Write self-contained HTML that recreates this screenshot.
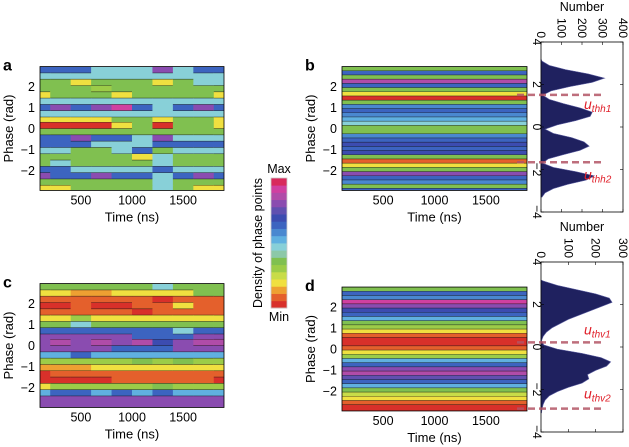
<!DOCTYPE html>
<html><head><meta charset="utf-8"><style>
html,body{margin:0;padding:0;background:#fff;}
svg{display:block;font-family:"Liberation Sans",sans-serif;}
</style></head><body>
<svg id="fig" width="629" height="447" viewBox="0 0 629 447"></svg>
<script>
// ---------- data ----------
const palette = ["#d8302a","#e4602c","#eea032","#f0e040","#c8dc48","#9ccc48","#80c050","#8cc8a8","#88d0d8","#60b0e0","#4a88d0","#3c64c0","#3c4cb0","#6050b0","#8a4cb0","#b04ca8","#d040a0","#d82a5c"];
const times = [100,300,500,700,900,1100,1300,1500,1700,1900];
const phaseRowsAC = [2.8,2.5,2.2,1.9,1.6,1.3,1.0,0.7,0.4,0.15,-0.15,-0.45,-0.75,-1.05,-1.35,-1.65,-1.95,-2.25,-2.55,-2.85];
const levelsA = [
[11,11,11,8,8,8,14,8,11,11],[8,8,8,8,8,8,8,8,8,8],[6,6,3,6,6,6,3,6,8,8],[6,6,6,5,6,6,6,6,6,6],
[3,6,6,6,3,6,6,6,6,3],[8,8,8,8,8,8,8,8,8,8],[11,14,11,14,16,11,8,11,14,11],[8,8,8,8,8,8,8,8,8,8],
[3,3,3,3,6,6,3,6,6,3],[0,0,0,0,3,6,0,6,6,3],[6,6,6,6,6,6,6,6,6,6],[11,11,14,11,11,8,14,8,8,8],
[11,11,11,8,8,8,11,11,11,11],[8,8,6,6,8,11,6,8,8,8],[6,6,6,6,6,3,8,6,6,6],[6,8,6,6,6,6,8,6,6,6],
[11,11,8,8,8,8,11,8,8,8],[14,11,11,14,11,11,8,11,14,11],[6,6,6,6,6,6,8,6,6,6],[3,3,6,6,6,6,8,6,3,3]];
const levelsC = [
[6,6,6,6,6,6,8,6,6,6],[3,3,2,2,3,3,3,3,6,6],[1,1,1,1,1,1,0,1,1,1],[0,0,1,0,0,1,1,3,1,1],
[1,1,1,1,1,0,1,1,1,1],[3,3,5,3,3,3,3,3,3,3],[6,6,8,6,6,6,6,6,6,6],[11,11,11,11,11,11,11,8,11,11],
[14,14,14,14,14,11,11,11,14,14],[14,15,14,15,14,15,12,14,15,15],[14,14,14,14,11,11,11,14,14,14],[9,9,11,9,9,9,9,9,9,9],
[5,5,5,5,5,6,5,6,5,5],[2,2,2,3,3,3,3,3,3,3],[0,1,1,1,1,1,1,1,1,1],[0,0,0,0,1,1,1,1,1,0],
[3,5,5,5,5,5,6,5,5,5],[9,11,11,9,11,9,11,9,9,9],[14,14,14,14,14,14,14,14,14,14],[14,14,14,14,14,14,14,14,14,14]];
const phaseRowsBD = [2.85,2.65,2.45,2.25,2.05,1.85,1.65,1.45,1.25,1.05,0.85,0.65,0.45,0.25,0.05,-0.15,-0.35,-0.55,-0.75,-0.95,-1.15,-1.35,-1.55,-1.75,-1.95,-2.15,-2.35,-2.55,-2.75,-2.95];
const profileB = [6,11,6,15,11,6,3,0,6,10,11,10,9,8,6,6,10,11,12,11,12,6,1,3,6,14,11,10,6,11];
const profileD = [6,11,10,16,14,12,11,9,6,5,3,1,0,0,1,3,5,9,11,14,15,13,11,9,6,4,3,1,0,0];
const histPhaseB = [3.2,3.1,2.9,2.7,2.5,2.3,2.1,1.9,1.7,1.5,1.3,1.1,0.9,0.7,0.5,0.3,0.1,-0.1,-0.3,-0.5,-0.7,-0.9,-1.1,-1.3,-1.5,-1.7,-1.9,-2.1,-2.3,-2.5,-2.7,-2.9,-3.1,-3.3];
const histCountB = [0,5,40,120,230,310,250,140,50,8,40,110,190,250,240,170,80,20,60,150,210,235,190,110,35,8,60,170,260,220,130,60,20,5];
const histPhaseD = [3.15,3.1,2.9,2.7,2.5,2.3,2.1,1.9,1.7,1.5,1.3,1.1,0.9,0.7,0.5,0.3,0.1,-0.1,-0.3,-0.5,-0.7,-0.9,-1.1,-1.3,-1.5,-1.7,-1.9,-2.1,-2.3,-2.5,-2.7,-2.9,-3.1];
const histCountD = [0,10,60,130,200,250,260,220,180,140,100,70,40,20,8,2,10,60,150,220,255,240,200,170,175,150,100,60,30,15,8,4,2];
const thresholdsB = [1.51,-1.66];
const thresholdsD = [0.22,-2.9];
const xTicks = [500,1000,1500];
const yTicks = [2,1,0,-1,-2];

// ---------- helpers ----------
const NS="http://www.w3.org/2000/svg";
const svg=document.getElementById('fig');
function mk(tag,attrs,parent){const e=document.createElementNS(NS,tag);for(const k in attrs)e.setAttribute(k,attrs[k]);(parent||svg).appendChild(e);return e;}
function txt(x,y,s,size,parent,extra){const t=mk('text',Object.assign({x:x,y:y,'font-size':size,fill:'#000'},extra||{}),parent);t.textContent=s;return t;}

function panel(id,letter,x0,x1,yc,k,rows,rowH,getLevel,nCols){
  const g=mk('g',{});
  
  
  const top=yc-2.95*k, bot=yc+2.95*k;
  const xs=t=>x0+(t-100)/1800*(x1-x0);
  const ys=p=>yc-p*k;
  const cid='clip'+id;
  const cp=mk('clipPath',{id:cid},g);mk('rect',{x:x0,y:top,width:x1-x0,height:bot-top},cp);
  const cg=mk('g',{'clip-path':'url(#'+cid+')'},g);
  for(let r=0;r<rows.length;r++){
    for(let c=0;c<nCols;c++){
      const lv=getLevel(r,c);
      const ta=nCols===1?100:Math.max(100,times[c]-100), tb=nCols===1?1900:Math.min(1900,times[c]+100);
      const cell=mk('rect',{x:xs(ta),y:ys(rows[r]+rowH/2),width:xs(tb)-xs(ta)+0.6,height:rowH*k+0.6,fill:palette[lv]},cg);
      
      
      if(r>0 && getLevel(r-1,c)!==lv){
        mk('line',{x1:xs(ta),x2:xs(tb),y1:ys(rows[r]+rowH/2),y2:ys(rows[r]+rowH/2),stroke:'#111','stroke-width':0.6,'stroke-opacity':0.7},cg);
      }
    }
  }
  mk('rect',{x:x0,y:top,width:x1-x0,height:bot-top,fill:'none',stroke:'#000','stroke-width':0.8},g);
  yTicks.forEach(p=>{
    const l=txt(x0-5,ys(p)+4.5,String(p).replace('-','\u2212'),12.5,g,{'text-anchor':'end'});
    
    
  });
  xTicks.forEach(t=>{
    const l=txt(xs(t),bot+14,String(t),12.5,g,{'text-anchor':'middle'});
    
    
  });
  const xt=txt((x0+x1)/2,bot+31,'Time (ns)',13,g,{'text-anchor':'middle'});
  
  
  const yt=txt(0,0,'Phase (rad)',13,g,{'text-anchor':'middle',transform:'translate('+(x0-27)+','+yc+') rotate(-90)'});
  
  
  const pl=txt(x0-37,top+4,letter,16,g,{'font-weight':'bold'});
  
  
}

panel('a','a',40,224,128.5,21,phaseRowsAC,0.295,(r,c)=>levelsA[r][c],10);
panel('b','b',342,527,128.5,21,phaseRowsBD,0.2,(r,c)=>profileB[r],1);
panel('c','c',40,224,345.5,21,phaseRowsAC,0.295,(r,c)=>levelsC[r][c],10);
panel('d','d',342,527,349,21,phaseRowsBD,0.2,(r,c)=>profileD[r],1);

function hist(id,ph,cnt,xmax,ticks,yc,thr,labels,labelOff){
  const g=mk('g',{});
  
  
  const x0=541,x1=623,k=21.25,top=yc-4*k,bot=yc+4*k;
  const xh=v=>x0+v/xmax*(x1-x0);
  const yh=p=>yc-p*k;
  let d='M'+x0+','+yh(ph[0]);
  for(let i=0;i<ph.length;i++){d+=' L'+xh(cnt[i])+','+yh(ph[i]);}
  d+=' L'+x0+','+yh(ph[ph.length-1])+' Z';
  const p=mk('path',{d:d,fill:'#1f215f',stroke:'#5a5ca0','stroke-width':0.6},g);
  
  
  mk('rect',{x:x0,y:top,width:x1-x0,height:bot-top,fill:'none',stroke:'#000','stroke-width':0.8},g);
  ticks.forEach(v=>{
    mk('line',{x1:xh(v),x2:xh(v),y1:top,y2:top+3,stroke:'#000','stroke-width':0.6},g);
    mk('line',{x1:xh(v),x2:xh(v),y1:bot,y2:bot-3,stroke:'#000','stroke-width':0.6},g);
    const l=txt(0,0,String(v),12,g,{'text-anchor':'end',transform:'translate('+(xh(v)-4)+','+(top-4)+') rotate(90)'});
    
    
  });
  [4,2,0,-2,-4].forEach(v=>{
    mk('line',{x1:x0,x2:x0+3,y1:yh(v),y2:yh(v),stroke:'#000','stroke-width':0.6},g);
    mk('line',{x1:x1,x2:x1-3,y1:yh(v),y2:yh(v),stroke:'#000','stroke-width':0.6},g);
    const l=txt(0,0,String(v).replace('-','\u2212'),12,g,{'text-anchor':'middle',transform:'translate('+(x0-8)+','+yh(v)+') rotate(90)'});
    
    
  });
  const nt=txt(582,top-31,'Number',12.5,g,{'text-anchor':'middle'});
  
  
  thr.forEach((t,i)=>{
    const ln=mk('line',{x1:517,x2:602,y1:yh(t),y2:yh(t),stroke:'#b35565','stroke-width':2.5,'stroke-dasharray':'7,4','stroke-opacity':0.85},g);
    
    
    const lb=mk('text',{x:584,y:yh(t)+labelOff[i],'font-size':14,fill:'#e0202a','font-style':'italic'},g);
    lb.innerHTML='u<tspan font-size="10" dy="3">'+labels[i]+'</tspan>';
    
    
  });
}
hist('b',histPhaseB,histCountB,400,[0,100,200,300,400],127,thresholdsB,['thh1','thh2'],[14,17]);
hist('d',histPhaseD,histCountD,300,[0,100,200,300],347,thresholdsD,['thv1','thv2'],[-8,-10]);

// colorbar
const cb=mk('g',{});


const cbTop=178,cbBot=308,n=palette.length,h=(cbBot-cbTop)/n;
for(let i=0;i<n;i++){
  const r=mk('rect',{x:271,y:cbTop+(n-1-i)*h,width:16,height:h+0.4,fill:palette[i]},cb);
  
  
}
mk('rect',{x:271,y:cbTop,width:16,height:cbBot-cbTop,fill:'none',stroke:'#ccc','stroke-width':0.8},cb);
const mx=txt(279,173,'Max',12.5,cb,{'text-anchor':'middle'});


const mn=txt(279,321,'Min',12.5,cb,{'text-anchor':'middle'});


const ct=txt(0,0,'Density of phase points',12.5,cb,{'text-anchor':'middle',transform:'translate(262,243) rotate(-90)'});


</script>
</body></html>
